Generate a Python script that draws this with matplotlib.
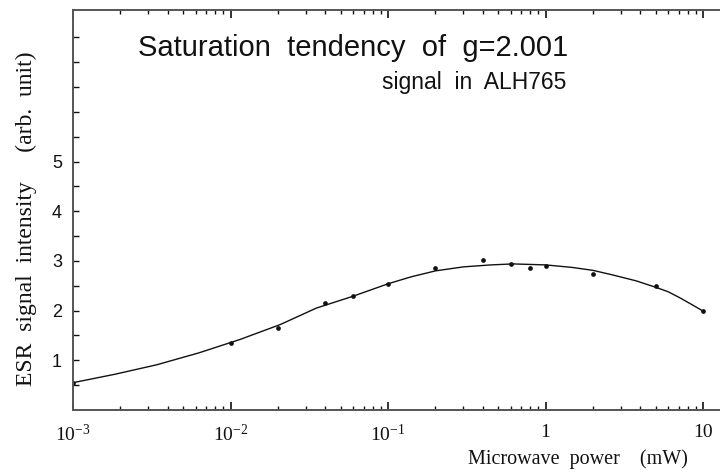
import matplotlib.pyplot as plt
from matplotlib.ticker import FixedLocator, LogLocator, NullFormatter, FixedFormatter

power_mw = [0.001, 0.01, 0.02, 0.04, 0.06, 0.1, 0.2, 0.4, 0.6, 0.8, 1.0, 2.0, 5.0, 10.0]
intensity = [0.55, 1.34, 1.65, 2.15, 2.30, 2.54, 2.85, 3.01, 2.93, 2.85, 2.89, 2.74, 2.49, 1.99]

# courbe d'ajustement, points relevés le long du tracé
fit_x = [0.001, 0.00185, 0.0034, 0.0063, 0.0115, 0.0207, 0.035, 0.06, 0.1, 0.14,
         0.2, 0.3, 0.45, 0.62, 1.0, 1.47, 2.0, 2.65, 3.75, 5.0, 6.0, 7.1, 8.5, 10.0]
fit_y = [0.55, 0.72, 0.91, 1.15, 1.42, 1.72, 2.05, 2.29, 2.54, 2.68,
         2.80, 2.88, 2.92, 2.94, 2.92, 2.87, 2.81, 2.72, 2.60, 2.47, 2.38, 2.26, 2.12, 1.99]

x_ticks = [1e-3, 1e-2, 1e-1, 1, 10]
x_labels = ["$\\mathregular{10^{-3}}$", "$\\mathregular{10^{-2}}$",
            "$\\mathregular{10^{-1}}$", "1", "10"]
y_ticks = [1, 2, 3, 4, 5]

ENCRE = "#111111"
GRIS = "#555555"

fig = plt.figure(figsize=(7.2, 4.76), dpi=100)
ax = fig.add_axes([73 / 720, 66 / 476, 1 - 73 / 720, 400 / 476])

ax.plot(fit_x, fit_y, color=ENCRE, lw=1.0)
ax.plot(power_mw, intensity, "o", ms=3.4, color=ENCRE, mec="none")

ax.set_xscale("log")
ax.set_xlim(1e-3, 12.8)
ax.set_ylim(0, 8.05)

ax.spines["right"].set_visible(False)
for s in ("left", "bottom", "top"):
    ax.spines[s].set_color(GRIS)
    ax.spines[s].set_linewidth(1.4)

ax.xaxis.set_major_locator(FixedLocator(x_ticks))
ax.xaxis.set_major_formatter(FixedFormatter(x_labels))
ax.xaxis.set_minor_locator(LogLocator(base=10, subs=range(2, 10)))
ax.xaxis.set_minor_formatter(NullFormatter())
ax.yaxis.set_major_locator(FixedLocator(y_ticks))
ax.yaxis.set_minor_locator(FixedLocator([0.5, 1.5, 2.5, 3.5, 4.5, 5.5, 6, 6.5, 7, 7.5]))
ax.tick_params(axis="both", which="both", direction="in", colors=ENCRE)
ax.tick_params(axis="x", which="major", length=6, width=1.2, top=True, pad=10)
ax.tick_params(axis="x", which="minor", length=3, width=1.0, top=True)
ax.tick_params(axis="y", which="major", length=4, width=1.0, pad=8)
ax.tick_params(axis="y", which="minor", length=4, width=1.0)
for lab in ax.get_xticklabels():
    lab.set_fontfamily("Liberation Serif")
    lab.set_fontsize(14)
for lab in ax.get_yticklabels():
    lab.set_fontfamily("Liberation Sans")
    lab.set_fontsize(13)

fig.text(0.192, 0.899, "Saturation  tendency  of  g=2.001", fontsize=21,
         family="Liberation Sans", color=ENCRE, va="center")
fig.text(0.53, 0.827, "signal  in  ALH765", fontsize=16.5,
         family="Liberation Sans", color=ENCRE, va="center")
fig.text(0.036, 0.54, "ESR  signal  intensity     (arb.  unit)", rotation=90,
         fontsize=17, family="Liberation Serif", color=ENCRE,
         ha="center", va="center")
fig.text(0.955, 0.035, "Microwave  power    (mW)", fontsize=14.5,
         family="Liberation Serif", color=ENCRE, ha="right", va="center")

fig.savefig("out.png", dpi=100)
